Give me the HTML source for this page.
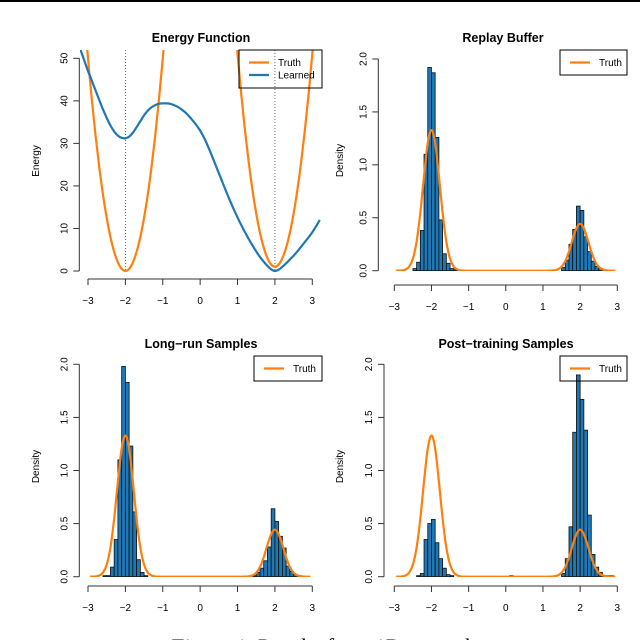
<!DOCTYPE html>
<html><head><meta charset="utf-8"><style>
body{margin:0;background:#fff}
svg{display:block}
text{font-family:"Liberation Sans",Arial,sans-serif;fill:#000}
</style></head><body>
<svg id="fig" width="640" height="640" viewBox="0 0 640 640">
<rect x="0" y="0" width="640" height="2" fill="#000"/>
<text x="170" y="654" font-size="22" style="font-family:'Liberation Serif',serif;font-style:italic">Figure 1. Results for a 1D example</text>
</svg>
<script>
// Energy grid x values (-3.2 .. 3.2 step 0.1)
const energyX = [-3.2,-3.1,-3.0,-2.9,-2.8,-2.7,-2.6,-2.5,-2.4,-2.3,-2.2,-2.1,-2.0,-1.9,-1.8,-1.7,-1.6,-1.5,-1.4,-1.3,-1.2,-1.1,-1.0,-0.9,-0.8,-0.7,-0.6,-0.5,-0.4,-0.3,-0.2,-0.1,0.0,0.1,0.2,0.3,0.4,0.5,0.6,0.7,0.8,0.9,1.0,1.1,1.2,1.3,1.4,1.5,1.6,1.7,1.8,1.9,2.0,2.1,2.2,2.3,2.4,2.5,2.6,2.7,2.8,2.9,3.0,3.1,3.2];
const truthEnergy = [72,60.5,50,40.5,32,24.5,18,12.5,8,4.5,2,0.5,0,0.5,2,4.5,8,12.5,18,24.5,32,40.5,50,60.5,72,84.5,98,112.5,128,144.5,162,180.5,200,181.5,163,145.5,129,113.5,99,85.5,73,61.5,51,41.5,33,25.5,19,13.5,9,5.5,3,1.5,1,1.5,3,5.5,9,13.5,19,25.5,33,41.5,51,61.5,73];
const learnedEnergy = [52,49.5,47,44.8,42.5,40.2,38,36,34.2,32.8,31.8,31.3,31.2,31.6,32.5,33.8,35.2,36.6,37.7,38.5,39,39.3,39.4,39.4,39.3,39,38.6,38,37.3,36.4,35.4,34.3,33,31.4,29.5,27.4,25.2,23,20.8,18.6,16.5,14.5,12.6,10.8,9.1,7.5,6,4.6,3.3,2.2,1.2,0.4,0,0.3,1,1.8,2.7,3.6,4.6,5.7,6.8,7.9,9.1,10.5,12];
// Truth density
const densX = [-2.95,-2.9,-2.8,-2.7,-2.6,-2.5,-2.4,-2.3,-2.2,-2.1,-2.0,-1.9,-1.8,-1.7,-1.6,-1.5,-1.4,-1.3,-1.2,-1.1,-1.0,-0.5,0,0.5,1.0,1.1,1.2,1.3,1.4,1.5,1.6,1.7,1.8,1.9,2.0,2.1,2.2,2.3,2.4,2.5,2.6,2.7,2.8,2.9,2.95];
const truthDensity = [0,0.0004,0.002,0.011,0.038,0.113,0.274,0.547,0.896,1.205,1.33,1.205,0.896,0.547,0.274,0.113,0.038,0.011,0.002,0.0004,0,0,0,0,0,0.0001,0.001,0.004,0.013,0.037,0.091,0.182,0.299,0.401,0.443,0.401,0.299,0.182,0.091,0.037,0.013,0.004,0.001,0.0001,0];
// Histograms: bin left edges and densities (bin width 0.1)
const replayBins = [-2.5,-2.4,-2.3,-2.2,-2.1,-2.0,-1.9,-1.8,-1.7,-1.6,-1.5,-1.4,1.5,1.6,1.7,1.8,1.9,2.0,2.1,2.2,2.3,2.4,2.5,2.6];
const replayDens = [0.02,0.08,0.38,1.10,1.92,1.87,1.26,0.48,0.16,0.07,0.02,0.01,0.03,0.10,0.25,0.39,0.61,0.57,0.32,0.18,0.09,0.04,0.02,0.01];
const longBins = [-2.6,-2.5,-2.4,-2.3,-2.2,-2.1,-2.0,-1.9,-1.8,-1.7,-1.6,-1.5,1.4,1.5,1.6,1.7,1.8,1.9,2.0,2.1,2.2,2.3,2.4,2.5,2.6];
const longDens = [0.01,0.01,0.09,0.35,1.10,1.98,1.83,1.23,0.61,0.16,0.04,0.01,0.01,0.04,0.08,0.15,0.28,0.64,0.52,0.38,0.27,0.10,0.05,0.02,0.01];
const postBins = [-2.4,-2.3,-2.2,-2.1,-2.0,-1.9,-1.8,-1.7,-1.6,-1.5,0.1,1.5,1.6,1.7,1.8,1.9,2.0,2.1,2.2,2.3,2.4,2.5,2.6,2.7,2.8];
const postDens = [0.01,0.03,0.35,0.50,0.54,0.32,0.17,0.08,0.02,0.01,0.01,0.03,0.17,0.47,1.36,1.90,1.67,1.38,0.58,0.21,0.09,0.04,0.01,0.01,0.01];
const xTicks = [-3,-2,-1,0,1,2,3];
const energyTicks = [0,10,20,30,40,50];
const densTicks = [0,0.5,1.0,1.5,2.0];
const densTickLabels = ["0.0","0.5","1.0","1.5","2.0"];

const NS="http://www.w3.org/2000/svg";
const svg=document.getElementById('fig');
function mk(tag,attrs,parent){const e=document.createElementNS(NS,tag);for(const k in attrs)e.setAttribute(k,attrs[k]);(parent||svg).appendChild(e);return e;}
function smooth(pts){let d='M'+pts[0][0].toFixed(2)+','+pts[0][1].toFixed(2);
 for(let i=0;i<pts.length-1;i++){const p0=pts[i-1]||pts[i],p1=pts[i],p2=pts[i+1],p3=pts[i+2]||p2;
  const c1=[p1[0]+(p2[0]-p0[0])/6,p1[1]+(p2[1]-p0[1])/6],c2=[p2[0]-(p3[0]-p1[0])/6,p2[1]-(p3[1]-p1[1])/6];
  d+=' C'+c1[0].toFixed(2)+','+c1[1].toFixed(2)+' '+c2[0].toFixed(2)+','+c2[1].toFixed(2)+' '+p2[0].toFixed(2)+','+p2[1].toFixed(2);}
 return d;}

function panel(o){
 const g=mk('g',{});
 
 
 const sx=v=>o.x0+(v+3)*(o.x3-o.x0)/6;
 const sy=v=>o.y0-(v-o.ymin)*(o.y0-o.ytop)/(o.ymax-o.ymin);
 const cid='clip-'+o.name;
 const cp=mk('clipPath',{id:cid},g);mk('rect',{x:o.left,y:o.top,width:o.right-o.left,height:o.bottom-o.top},cp);
 const t=mk('text',{x:(o.left+o.right)/2,y:o.titleY,'text-anchor':'middle','font-size':12.5,'font-weight':'bold'},g);
 t.textContent=o.title;
 
 
 const xa=mk('g',{},g);
 
 
 mk('line',{x1:sx(-3),x2:sx(3),y1:o.axY,y2:o.axY,stroke:'#333','stroke-width':1},xa);
 xTicks.forEach(v=>{mk('line',{x1:sx(v),x2:sx(v),y1:o.axY,y2:o.axY+6,stroke:'#333'},xa);
  const l=mk('text',{x:sx(v),y:o.axY+25,'text-anchor':'middle','font-size':10},xa);l.textContent=(v<0?'\u2212':'')+Math.abs(v);});
 const ya=mk('g',{},g);
 
 
 mk('line',{x1:o.yax,x2:o.yax,y1:sy(o.yt[0]),y2:sy(o.yt[o.yt.length-1]),stroke:'#333'},ya);
 o.yt.forEach((v,i)=>{mk('line',{x1:o.yax,x2:o.yax-6,y1:sy(v),y2:sy(v),stroke:'#333'},ya);
  const l=mk('text',{x:0,y:0,'text-anchor':'middle','font-size':10,transform:`translate(${o.yax-12},${sy(v)}) rotate(-90)`},ya);l.textContent=o.ytl[i];});
 const yl=mk('text',{'text-anchor':'middle','font-size':10,transform:`translate(${o.ylabX},${(o.top+o.bottom)/2}) rotate(-90)`},g);
 yl.textContent=o.ylab;
 
 
 const plot=mk('g',{'clip-path':`url(#${cid})`},g);
 if(o.bins){o.bins.forEach((b,i)=>{const r=mk('rect',{x:sx(b),y:sy(o.dens[i]),width:sx(b+0.1)-sx(b),height:sy(0)-sy(o.dens[i]),fill:'#1f77b4',stroke:'#111','stroke-width':0.8},plot);
   
   });
  const dl=mk('path',{d:smooth(densX.map((x,i)=>[sx(x),sy(truthDensity[i])])),fill:'none',stroke:'#ff7f0e','stroke-width':2.2},plot);
  
  
 } else {
  [-2,2].forEach(v=>{const l=mk('line',{x1:sx(v),x2:sx(v),y1:o.top,y2:o.bottom,stroke:'#444','stroke-width':0.8,'stroke-dasharray':'1,2'},plot);
   
   });
  const tl=mk('path',{d:smooth(energyX.map((x,i)=>[sx(x),sy(truthEnergy[i])])),fill:'none',stroke:'#ff7f0e','stroke-width':2.2},plot);
  
  
  const ll=mk('path',{d:smooth(energyX.map((x,i)=>[sx(x),sy(learnedEnergy[i])])),fill:'none',stroke:'#1f77b4','stroke-width':2.2},plot);
  
  
 }
 const lg=mk('g',{},g);
 
 
 const L=o.legend;
 mk('rect',{x:L.x,y:L.y,width:L.w,height:L.h,fill:'none',stroke:'#000','stroke-width':1},lg);
 L.items.forEach((it,i)=>{const yy=L.y+12.5+i*12.5;
  mk('line',{x1:L.x+10,x2:L.x+30,y1:yy,y2:yy,stroke:it[1],'stroke-width':2.2},lg);
  const tx=mk('text',{x:L.x+39,y:yy+3.5,'font-size':10},lg);tx.textContent=it[0];
  
  });
}
panel({name:'energy-panel',title:'Energy Function',titleY:42,x0:88,x3:312.3,left:80,right:322,top:50,bottom:272,ymin:0,ymax:50,y0:271,ytop:58.3,axY:279,yax:79.3,ylabX:39,ylab:'Energy',yt:energyTicks,ytl:energyTicks.map(String),
 legend:{x:239,y:50,w:83,h:38,items:[['Truth','#ff7f0e'],['Learned','#1f77b4']]}});
panel({name:'replay-buffer-panel',title:'Replay Buffer',titleY:42,x0:394.3,x3:617.3,left:378,right:628,top:50,bottom:271,ymin:0,ymax:2,y0:270.7,ytop:59,axY:285,yax:378.3,ylabX:343,ylab:'Density',yt:densTicks,ytl:densTickLabels,bins:replayBins,dens:replayDens,
 legend:{x:560,y:50,w:67,h:25,items:[['Truth','#ff7f0e']]}});
panel({name:'long-run-panel',title:'Long\u2212run Samples',titleY:348,x0:88,x3:312.3,left:80,right:322,top:356,bottom:577,ymin:0,ymax:2,y0:576.7,ytop:364.3,axY:586,yax:79.3,ylabX:39,ylab:'Density',yt:densTicks,ytl:densTickLabels,bins:longBins,dens:longDens,
 legend:{x:254,y:356,w:68,h:25,items:[['Truth','#ff7f0e']]}});
panel({name:'post-training-panel',title:'Post\u2212training Samples',titleY:348,x0:394.3,x3:617.3,left:384,right:628,top:356,bottom:577,ymin:0,ymax:2,y0:576.7,ytop:364.3,axY:586,yax:384,ylabX:343,ylab:'Density',yt:densTicks,ytl:densTickLabels,bins:postBins,dens:postDens,
 legend:{x:560,y:356,w:67,h:25,items:[['Truth','#ff7f0e']]}});
</script>
</body></html>
